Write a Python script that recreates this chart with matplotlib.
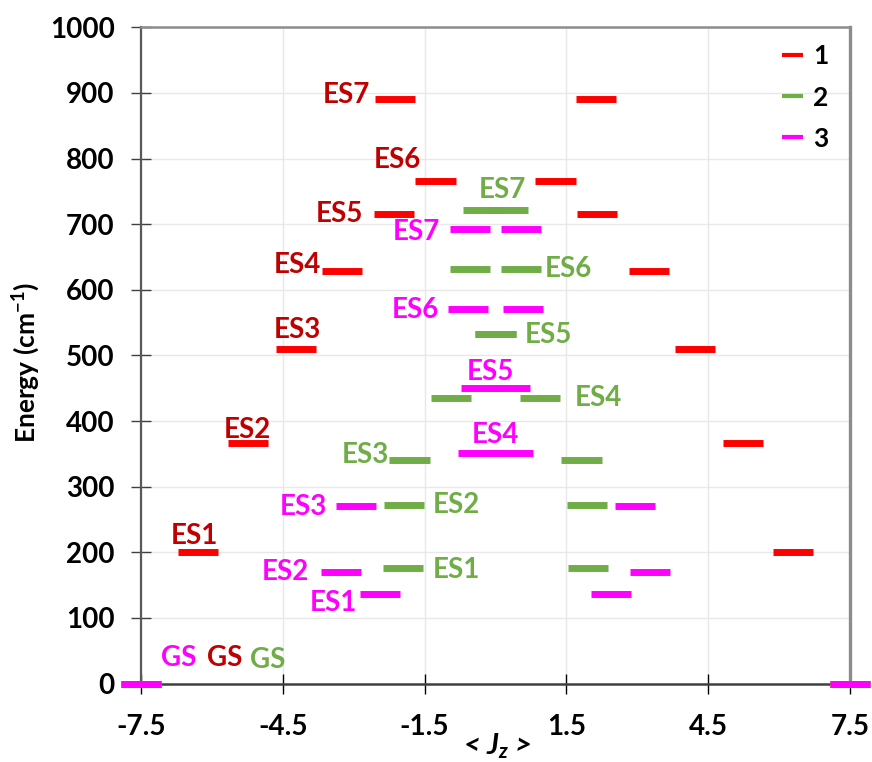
import numpy as np
import matplotlib.pyplot as plt
from matplotlib.lines import Line2D

plt.rcParams['font.family'] = ['Lato', 'DejaVu Sans']
plt.rcParams['mathtext.fontset'] = 'custom'
plt.rcParams['mathtext.rm'] = 'Lato:bold'
plt.rcParams['mathtext.bf'] = 'Lato:bold'
plt.rcParams['mathtext.it'] = 'Lato:bold:italic'

# energy levels (cm-1) and <Jz> of each doublet, drawn at +/- Jz
states = ['GS', 'ES1', 'ES2', 'ES3', 'ES4', 'ES5', 'ES6', 'ES7']
energy_1 = [0, 200, 366, 510, 629, 716, 765, 890]
jz_1 = [7.5, 6.30, 5.23, 4.22, 3.25, 2.15, 1.27, 2.13]
energy_2 = [0, 176, 272, 340, 435, 533, 632, 722]
jz_2 = [7.5, 1.95, 1.94, 1.82, 0.94, 0.0, 0.54, 0.27]
energy_3 = [0, 136, 170, 270, 351, 451, 570, 692]
jz_3 = [7.5, 2.44, 3.27, 2.95, 0.37, 0.30, 0.58, 0.54]
series_names = ['1', '2', '3']

bar_colors = ['#FF0000', '#70AD47', '#FF00FF']
text_colors = ['#C00000', '#70AD47', '#FF00FF']

# where the state names go (data coords)
label_pos_1 = [(-5.72, 39), (-6.36, 225), (-5.26, 386), (-4.2, 539),
               (-4.2, 638), (-3.31, 715), (-2.08, 798), (-3.16, 897)]
label_pos_2 = [(-4.83, 36), (-0.82, 173), (-0.82, 272), (-2.76, 348),
               (2.17, 435), (1.13, 531), (1.55, 632), (0.14, 752)]
label_pos_3 = [(-6.7, 39), (-3.42, 123), (-4.45, 170), (-4.07, 269),
               (-0.01, 379), (-0.1, 475), (-1.7, 569), (-1.68, 688)]

half_w = 0.425

fig = plt.figure(figsize=(8.72, 7.62), dpi=100)
ax = fig.add_axes([0.1617, 0.103, 0.8131, 0.8612])

all_energy = [energy_1, energy_2, energy_3]
all_jz = [jz_1, jz_2, jz_3]
all_pos = [label_pos_1, label_pos_2, label_pos_3]

for e, jz, pos, bc, tc in zip(all_energy, all_jz, all_pos, bar_colors, text_colors):
    e = np.array(e, dtype=float)
    jz = np.array(jz, dtype=float)
    x = np.concatenate([-jz, jz])
    y = np.concatenate([e, e])
    ax.hlines(y, x - half_w, x + half_w, colors=bc, linewidth=5,
              capstyle='butt', clip_on=False, zorder=3)
    for name, (tx, ty) in zip(states, pos):
        ax.text(tx, ty, name, color=tc, fontsize=20, fontweight='bold',
                ha='center', va='center', zorder=4)

ax.set_xlim(-7.5, 7.5)
ax.set_ylim(0, 1000)
ax.set_xticks([-7.5, -4.5, -1.5, 1.5, 4.5, 7.5])
ax.set_xticklabels(['-7.5', '-4.5', '-1.5', '1.5', '4.5', '7.5'])
ax.set_yticks(np.arange(0, 1001, 100))

ax.grid(True, color='#E8E8E8', linewidth=1)
ax.set_axisbelow(True)

ax.spines['top'].set_color('#8C8C8C')
ax.spines['top'].set_linewidth(1.8)
ax.spines['right'].set_color('#8C8C8C')
ax.spines['right'].set_linewidth(2.4)
ax.spines['left'].set_color('#595959')
ax.spines['left'].set_linewidth(1.6)
ax.spines['bottom'].set_color('#404040')
ax.spines['bottom'].set_linewidth(1.8)

ax.tick_params(axis='both', direction='inout', length=14, width=1,
               labelsize=20, pad=12)
ax.tick_params(axis='y', colors='#404040', labelcolor='black')
ax.tick_params(axis='x', colors='black', pad=15)
for lab in ax.get_xticklabels() + ax.get_yticklabels():
    lab.set_fontweight('bold')

ax.set_xlabel('< $J_z$ >', fontsize=21, fontweight='bold', style='italic')
ax.xaxis.set_label_coords(0.502, -0.096)
ax.xaxis.label.set_va('center')
ax.set_ylabel('Energy (cm$^{-1}$)', fontsize=19, fontweight='bold')
ax.yaxis.set_label_coords(-0.162, 0.489)
ax.yaxis.label.set_va('center')

handles = [Line2D([], [], color=c, linewidth=3, solid_capstyle='butt') for c in bar_colors]
leg = ax.legend(handles, series_names, loc='upper right', frameon=False,
                bbox_to_anchor=(0.985, 0.99), borderaxespad=0,
                handlelength=0.8, handletextpad=0.4, labelspacing=0.65,
                prop={'size': 19, 'weight': 'bold'})

fig.savefig('out.png', dpi=100)
